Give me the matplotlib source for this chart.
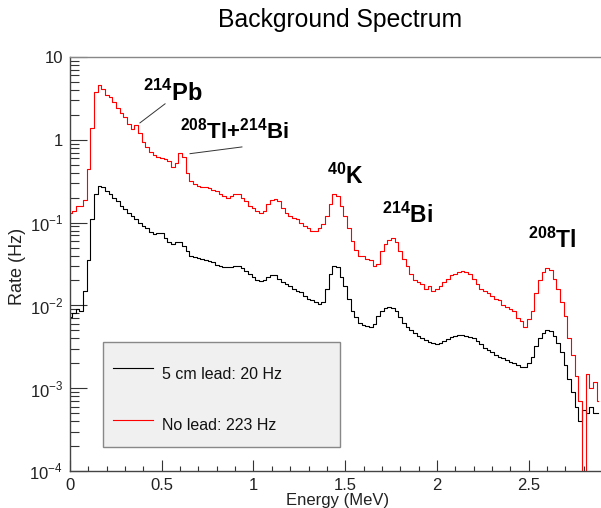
"""Background gamma spectrum, with and without 5 cm lead shielding."""

import matplotlib

matplotlib.use("Agg")
import matplotlib.patches as mpatches  # noqa: E402
import matplotlib.pyplot as plt  # noqa: E402
from matplotlib.ticker import FixedFormatter, FixedLocator, LogLocator, MultipleLocator  # noqa: E402

plt.rcParams["font.family"] = ["Liberation Sans", "DejaVu Sans"]
plt.rcParams["mathtext.fontset"] = "custom"
plt.rcParams["mathtext.rm"] = "Liberation Sans"
plt.rcParams["mathtext.bf"] = "Liberation Sans:bold"

# bin centres (MeV), 0.02 MeV wide
ENERGY = [round(0.02 * i, 2) for i in range(145)]

RATE_NO_LEAD = [
    0.13, 0.14, 0.16, 0.16, 0.19, 0.45, 1.4, 3.8, 4.6, 4.1,
    3.5, 3.3, 2.9, 2.4, 2.1, 1.9, 1.55, 1.35, 1.5, 1.2,
    0.95, 0.82, 0.72, 0.66, 0.62, 0.60, 0.58, 0.55, 0.47, 0.52,
    0.70, 0.62, 0.40, 0.32, 0.29, 0.28, 0.27, 0.27, 0.26, 0.25,
    0.24, 0.22, 0.21, 0.20, 0.21, 0.22, 0.22, 0.20, 0.18, 0.16,
    0.15, 0.14, 0.13, 0.14, 0.17, 0.19, 0.195, 0.18, 0.15, 0.13,
    0.12, 0.115, 0.11, 0.10, 0.09, 0.085, 0.08, 0.08, 0.085, 0.095,
    0.12, 0.17, 0.22, 0.21, 0.16, 0.12, 0.085, 0.06, 0.047, 0.040,
    0.040, 0.036, 0.035, 0.030, 0.032, 0.045, 0.055, 0.062, 0.066, 0.058,
    0.045, 0.036, 0.030, 0.024, 0.020, 0.019, 0.018, 0.016, 0.017, 0.015,
    0.016, 0.017, 0.019, 0.021, 0.023, 0.024, 0.025, 0.026, 0.025, 0.024,
    0.021, 0.018, 0.016, 0.015, 0.014, 0.013, 0.012, 0.0115, 0.010, 0.0095,
    0.009, 0.0085, 0.007, 0.0065, 0.0055, 0.0068, 0.0085, 0.014, 0.020, 0.025,
    0.028, 0.027, 0.021, 0.016, 0.011, 0.0075, 0.004, 0.0025, 0.0014, 0.0007,
    0.00001, 0.0015, 0.0010, 0.0012, 0.0007,
]

RATE_5CM_LEAD = [
    0.0072, 0.0080, 0.0090, 0.0085, 0.015, 0.035, 0.11, 0.22, 0.28, 0.27,
    0.24, 0.22, 0.20, 0.18, 0.16, 0.145, 0.13, 0.12, 0.11, 0.10,
    0.092, 0.085, 0.078, 0.072, 0.075, 0.074, 0.066, 0.058, 0.055, 0.058,
    0.059, 0.052, 0.045, 0.040, 0.038, 0.037, 0.036, 0.035, 0.034, 0.033,
    0.031, 0.030, 0.029, 0.029, 0.029, 0.030, 0.030, 0.028, 0.026, 0.024,
    0.022, 0.020, 0.0195, 0.020, 0.022, 0.023, 0.023, 0.021, 0.019, 0.018,
    0.017, 0.016, 0.015, 0.0145, 0.013, 0.012, 0.0115, 0.011, 0.0105, 0.011,
    0.016, 0.024, 0.030, 0.029, 0.022, 0.017, 0.012, 0.0085, 0.0072, 0.0062,
    0.0058, 0.0056, 0.0055, 0.0060, 0.0075, 0.0085, 0.0092, 0.0095, 0.0094, 0.0085,
    0.0072, 0.0062, 0.0055, 0.0050, 0.0046, 0.0043, 0.0040, 0.0038, 0.0036, 0.0035,
    0.0034, 0.0035, 0.0037, 0.0039, 0.0041, 0.0043, 0.0044, 0.0044, 0.0043, 0.0042,
    0.0040, 0.0037, 0.0034, 0.0031, 0.0029, 0.0027, 0.0025, 0.0024, 0.0023, 0.0022,
    0.0021, 0.0020, 0.0019, 0.0018, 0.0018, 0.0020, 0.0024, 0.0032, 0.0040, 0.0047,
    0.0050, 0.0049, 0.0043, 0.0035, 0.0027, 0.0019, 0.0013, 0.0009, 0.0006, 0.0004,
    0.00055, 0.0005, 0.0006, 0.0005, 0.0005,
]

LEGEND_LABELS = ["5 cm lead: 20 Hz", "No lead: 223 Hz"]

# peak labels: text, anchor (MeV, Hz), font size
PEAK_LABELS = [
    (r"$^{\mathbf{214}}\mathbf{Pb}$", 0.398, 2.95, 17),
    (r"$^{\mathbf{208}}\mathbf{Tl{+}}^{\mathbf{214}}\mathbf{Bi}$", 0.60, 1.03, 16),
    (r"$^{\mathbf{40}}\mathbf{K}$", 1.40, 0.295, 16.5),
    (r"$^{\mathbf{214}}\mathbf{Bi}$", 1.70, 0.10, 16.5),
    (r"$^{\mathbf{208}}\mathbf{Tl}$", 2.496, 0.05, 16.5),
]
# pointer lines: (E0, E1), (R0, R1)
POINTERS = [
    ((0.381, 0.518), (1.6, 2.72)),
    ((0.654, 0.937), (0.68, 0.82)),
]

YTICKS = [1e-4, 1e-3, 1e-2, 1e-1, 1, 10]
YTICK_LABELS = [r"$10^{-4}$", r"$10^{-3}$", r"$10^{-2}$", r"$10^{-1}$", "1", "10"]


def draw_legend(ax) -> None:
    # ROOT-style TLegend box, placed in axes fraction
    ax.add_patch(mpatches.Rectangle((0.062, 0.058), 0.446, 0.254, transform=ax.transAxes,
                                    facecolor="#f0f0f0", edgecolor="#888888", lw=1.0, zorder=5))
    entries = [("black", 0.249, 0.232), ("red", 0.123, 0.109)]
    for (color, y_line, y_text), label in zip(entries, LEGEND_LABELS):
        ax.plot([0.081, 0.156], [y_line, y_line], color=color, lw=0.8, transform=ax.transAxes, zorder=6)
        ax.text(0.173, y_text, label, fontsize=11.5, ha="left", va="center", transform=ax.transAxes,
                color="#111111", zorder=6)


def main() -> None:
    fig = plt.figure(figsize=(6.01, 5.08), dpi=100)
    ax = fig.add_axes([0.1165, 0.0728, 0.8835, 0.815])

    ax.step(ENERGY, RATE_5CM_LEAD, where="mid", color="black", lw=0.8)
    ax.step(ENERGY, RATE_NO_LEAD, where="mid", color="red", lw=0.8)

    ax.set_yscale("log")
    ax.set_xlim(0, 2.894)
    ax.set_ylim(1e-4, 10)

    ax.yaxis.set_major_locator(FixedLocator(YTICKS))
    ax.yaxis.set_major_formatter(FixedFormatter(YTICK_LABELS))
    ax.yaxis.set_minor_locator(LogLocator(base=10, subs=range(2, 10), numticks=20))
    ax.xaxis.set_major_locator(MultipleLocator(0.5))
    ax.xaxis.set_minor_locator(MultipleLocator(0.1))
    ax.xaxis.set_major_formatter(lambda v, pos: f"{v:g}")

    ax.tick_params(axis="both", which="both", direction="in", colors="#333333", labelcolor="#222222",
                   labelsize=12, width=0.8)
    ax.tick_params(axis="y", which="major", length=12, pad=5)
    ax.tick_params(axis="y", which="minor", length=6.5)
    ax.tick_params(axis="x", which="major", length=8, pad=5)
    ax.tick_params(axis="x", which="minor", length=3.5)

    ax.spines["right"].set_visible(False)
    for side in ("left", "bottom"):
        ax.spines[side].set_color("#444444")
        ax.spines[side].set_linewidth(1.0)
    ax.spines["top"].set_color("#888888")
    ax.spines["top"].set_linewidth(1.0)

    for text, e, r, size in PEAK_LABELS:
        ax.text(e, r, text, fontsize=size, ha="left", va="baseline", color="black")
    for (e0, e1), (r0, r1) in POINTERS:
        ax.plot([e0, e1], [r0, r1], color="#333333", lw=0.7)

    draw_legend(ax)

    fig.text(340 / 601, 1 - 20 / 508, "Background Spectrum", fontsize=17.8, ha="center", va="center")
    fig.text(18 / 601, 1 - 266 / 508, "Rate (Hz)", fontsize=13, rotation=90, ha="center", va="center",
             color="#222222")
    fig.text(338 / 601, 1 - 500 / 508, "Energy (MeV)", fontsize=12, ha="center", va="center", color="#222222")

    fig.savefig("out.png", dpi=100)
    plt.close(fig)


if __name__ == "__main__":
    main()
